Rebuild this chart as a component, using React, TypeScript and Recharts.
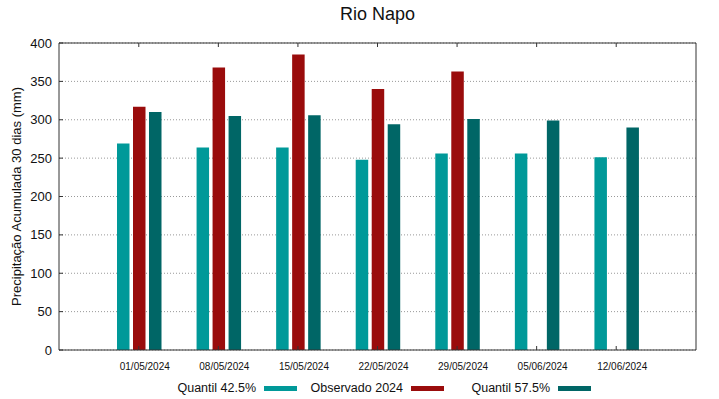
import React from 'react';
import { BarChart, Bar, XAxis, YAxis, CartesianGrid, Label } from 'recharts';

const dates = ['01/05/2024', '08/05/2024', '15/05/2024', '22/05/2024', '29/05/2024', '05/06/2024', '12/06/2024'];
const quantil425 = [269, 264, 264, 248, 256, 256, 251];
const observado2024 = [317, 368, 385, 340, 363, null, null];
const quantil575 = [310, 305, 306, 294, 301, 299, 290];
const yTicks = [0, 50, 100, 150, 200, 250, 300, 350, 400];

const TITLE = 'Rio Napo';
const Y_TITLE = 'Precipitação Acumulada 30 dias (mm)';
const FONT = '"Liberation Sans", Arial, sans-serif';

const series = [
  { key: 'q425', name: 'Quantil 42.5%', color: '#009999' },
  { key: 'obs', name: 'Observado 2024', color: '#9a0c0c' },
  { key: 'q575', name: 'Quantil 57.5%', color: '#006666' },
];

const data = dates.map((date, i) => ({
  date,
  q425: quantil425[i],
  obs: observado2024[i],
  q575: quantil575[i],
}));

const YTitle = (props: any) => {
  const { viewBox } = props;
  const cx = 16;
  const cy = viewBox.y + viewBox.height / 2;
  return (
    <text
      x={cx}
      y={cy}
      transform={`rotate(-90 ${cx} ${cy})`}
      textAnchor="middle"
      dominantBaseline="central"
      fontSize={13}
      fill="#111"
      fontFamily={FONT}
    >
      {Y_TITLE}
    </text>
  );
};

export default function App() {
  return (
    <div style={{ position: 'absolute', left: 0, top: 0, width: 719, height: 399, fontFamily: FONT, background: '#fff' }}>
      <style>{'body{margin:0}'}</style>
      <div
        style={{
          position: 'absolute',
          left: 59,
          width: 637,
          top: 5,
          fontSize: 18,
          lineHeight: '18px',
          textAlign: 'center',
          color: '#111',
        }}
      >
        {TITLE}
      </div>

      <BarChart
        width={719}
        height={399}
        data={data}
        margin={{ top: 42, right: 22, bottom: 19, left: 0 }}
        barSize={12.5}
        barGap={3.5}
      >
        <CartesianGrid vertical={false} stroke="#999" strokeDasharray="1 2" />
        <XAxis
          dataKey="date"
          padding={{ left: 40, right: 40 }}
          height={30}
          axisLine={{ stroke: '#333' }}
          tickLine={{ stroke: '#333' }}
          tickSize={-4}
          tickMargin={17}
          tick={{ fontSize: 10, fill: '#111', dx: 6 }}
          interval={0}
        />
        <XAxis
          xAxisId="top"
          dataKey="date"
          orientation="top"
          padding={{ left: 40, right: 40 }}
          height={1}
          axisLine={{ stroke: '#333' }}
          tickLine={{ stroke: '#333' }}
          tickSize={-4}
          tickFormatter={() => ''}
          interval={0}
        />
        <YAxis
          domain={[0, 400]}
          ticks={yTicks}
          width={59}
          axisLine={{ stroke: '#333' }}
          tickLine={{ stroke: '#333' }}
          tickSize={-4}
          tickMargin={11}
          tick={{ fontSize: 13, fill: '#111' }}
          interval={0}
        >
          <Label content={YTitle} />
        </YAxis>
        <YAxis
          yAxisId="right"
          orientation="right"
          domain={[0, 400]}
          ticks={yTicks}
          width={1}
          axisLine={{ stroke: '#333' }}
          tickLine={{ stroke: '#333' }}
          tickSize={-4}
          tickFormatter={() => ''}
          interval={0}
        />
        {series.map((s) => (
          <Bar key={s.key} dataKey={s.key} name={s.name} fill={s.color} isAnimationActive={false} />
        ))}
      </BarChart>

      <div
        style={{
          position: 'absolute',
          left: 150,
          top: 381,
          display: 'flex',
          fontSize: 12.5,
          lineHeight: '15px',
          color: '#111',
        }}
      >
        {series.map((s) => (
          <div key={s.key} style={{ width: 147, display: 'flex', justifyContent: 'flex-end', alignItems: 'center' }}>
            <span>{s.name}</span>
            <span style={{ display: 'inline-block', width: 33, height: 5, background: s.color, marginLeft: 8 }} />
          </div>
        ))}
      </div>
    </div>
  );
}
